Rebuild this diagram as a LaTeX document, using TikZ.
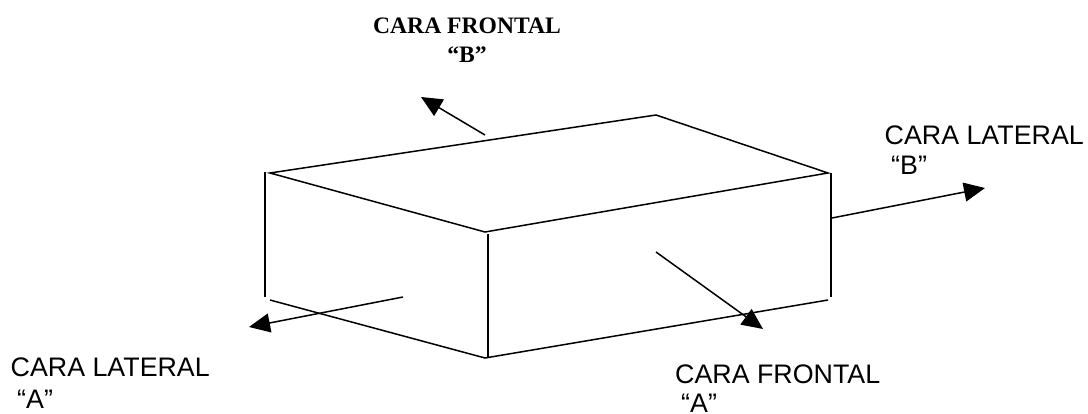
\documentclass[tikz,border=0pt]{standalone}
\usepackage{fontspec}
\setmainfont{Liberation Sans}
\newfontfamily\serifb{Liberation Serif}
\usetikzlibrary{arrows.meta}
\tikzset{
  edge/.style={line width=1.5pt,black},
  arrow/.style={line width=1.5pt,black,-{Triangle[length=21pt,width=19pt]}},
  lab/.style={inner sep=0pt,anchor=base west,font=\fontsize{26.8}{30}\selectfont},
  blab/.style={inner sep=0pt,anchor=base,font=\serifb\bfseries\fontsize{23.6}{28}\selectfont}
}
\begin{document}
\begin{tikzpicture}[x=1pt,y=-1pt]
\useasboundingbox (0,0) rectangle (1088,414);
\coordinate (tl) at (270,173);
\coordinate (tb) at (656,115);
\coordinate (tr) at (828,173);
\coordinate (tf) at (485,232);
\coordinate (vt) at (488,234);
\coordinate (vb) at (488,358);
\coordinate (bf) at (485,358);
\coordinate (bl) at (270,300);
\coordinate (br) at (828,300);
\coordinate (lt) at (265,172);
\coordinate (lb) at (265,297);
\coordinate (rt) at (831,173);
\coordinate (rb) at (831,297);
\draw[edge] (tl)--(tb)--(tr)--(tf)--cycle;
\draw[edge] (vt)--(vb);
\draw[edge] (lt)--(lb);
\draw[edge] (rt)--(rb);
\draw[edge] (bl)--(bf)--(br);
\coordinate (a1s) at (485,135); \coordinate (a1e) at (421,97);
\coordinate (a2s) at (832,218); \coordinate (a2e) at (985,188);
\coordinate (a3s) at (403,297); \coordinate (a3e) at (249,327);
\coordinate (a4s) at (656,252); \coordinate (a4e) at (763,329);
\draw[arrow] (a1s)--(a1e);
\draw[arrow] (a2s)--(a2e);
\draw[arrow] (a3s)--(a3e);
\draw[arrow] (a4s)--(a4e);
\node[blab] (t1) at (467,34) {CARA FRONTAL};
\node[blab] (t1b) at (467,63) {“B”};
\node[lab] (t2) at (884.5,145) {CARA LATERAL};
\node[lab] (t2b) at (891,175) {“B”};
\node[lab] (t3) at (10.5,377) {CARA LATERAL};
\node[lab] (t3b) at (17,408) {“A”};
\node[lab] (t4) at (675,383) {CARA FRONTAL};
\node[lab] (t4b) at (681,412) {“A”};
\end{tikzpicture}
\end{document}
